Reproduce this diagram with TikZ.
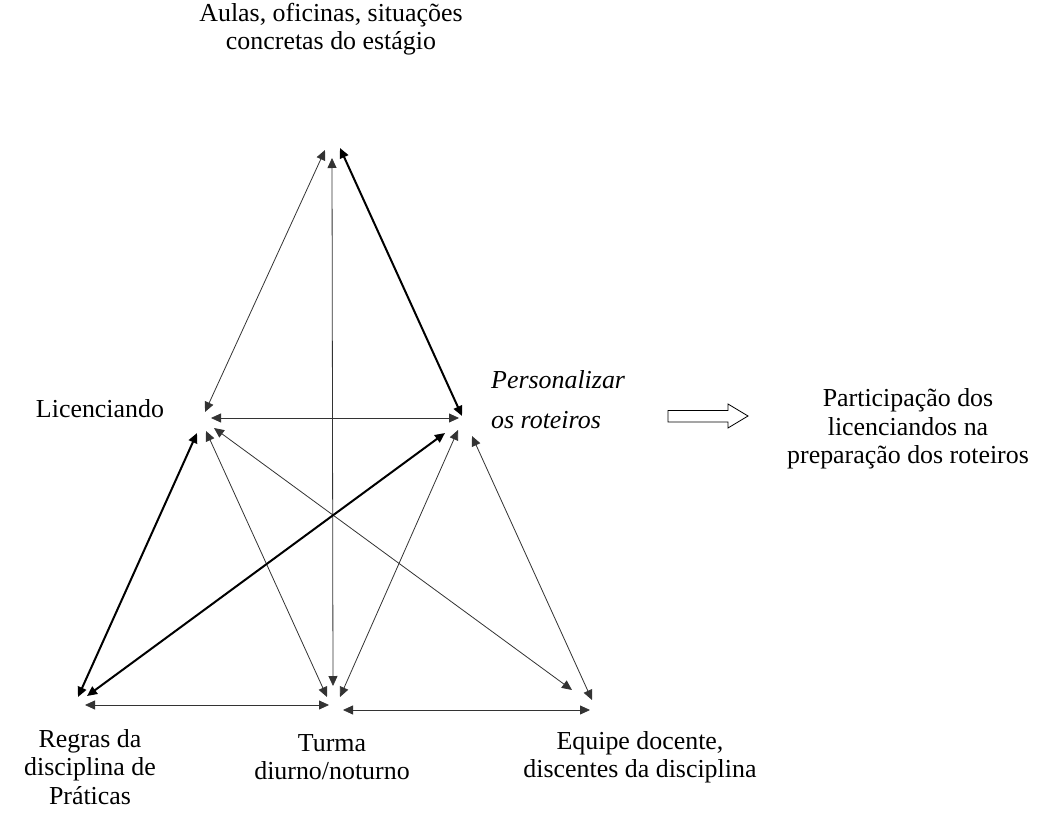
\documentclass[tikz,border=0pt]{standalone}
\usepackage{fontspec}
\setmainfont{Liberation Serif}
\usetikzlibrary{arrows.meta}
\begin{document}
\begin{tikzpicture}[x=1bp,y=-1bp,
  lbl/.style={align=center,font=\fontsize{26}{28.5}\selectfont,inner sep=0pt},
  ilbl/.style={font=\fontsize{26}{28.5}\selectfont\itshape,inner sep=0pt},
  tip/.tip={Triangle[length=10bp,width=9bp]},
  conn/.style={draw=black!80,line width=0.8bp,tip-tip},
  boldconn/.style={draw=black,line width=2bp,tip-tip}]
\useasboundingbox (0,0) rectangle (1046,814);
% endpoints
\coordinate (apL) at (325,150); \coordinate (licA) at (205,412);
\coordinate (apV) at (332,158); \coordinate (turV) at (333,686);
\coordinate (apR) at (340,148); \coordinate (perA) at (462,416);
\coordinate (licH) at (211,418); \coordinate (perH) at (459,418);
\coordinate (licR) at (197,433); \coordinate (regL) at (78,697);
\coordinate (licT) at (206,431); \coordinate (turL) at (327,697);
\coordinate (licE) at (214,428); \coordinate (eqL) at (572,690);
\coordinate (perR) at (445,433); \coordinate (regP) at (87,696);
\coordinate (perT) at (458,430); \coordinate (turP) at (340,697);
\coordinate (perE) at (472,436); \coordinate (eqP) at (592,700);
\coordinate (regH) at (85,705); \coordinate (turH1) at (329,705);
\coordinate (turH2) at (343,710); \coordinate (eqH) at (590,710);
% connectors
\draw[conn] (apL) -- (licA);
\draw[conn] (apV) -- (turV);
\draw[boldconn] (apR) -- (perA);
\draw[conn] (licH) -- (perH);
\draw[boldconn] (licR) -- (regL);
\draw[conn] (licT) -- (turL);
\draw[conn] (licE) -- (eqL);
\draw[boldconn] (perR) -- (regP);
\draw[conn] (perT) -- (turP);
\draw[conn] (perE) -- (eqP);
\draw[conn] (regH) -- (turH1);
\draw[conn] (turH2) -- (eqH);
% labels
\node[lbl] (aulas) at (331,29) {Aulas, oficinas, situações\\concretas do estágio};
\node[lbl] (lic) at (100,409) {Licenciando};
\node[ilbl,anchor=base west] (pers1) at (491,388) {Personalizar};
\node[ilbl,anchor=base west] (pers2) at (491,428) {os roteiros};
\node[lbl] (part) at (908,429) {Participação dos\\licenciandos na\\preparação dos roteiros};
\node[lbl] (regras) at (90,767) {Regras da\\disciplina de\\Práticas};
\node[lbl] (turma) at (332,757) {Turma\\diurno/noturno};
\node[lbl] (equipe) at (640,757) {Equipe docente,\\discentes da disciplina};
% hollow arrow
\draw[line width=0.8bp,line join=miter] (668,410.5) -- (728,410.5) -- (728,404) -- (748,416) -- (728,428) -- (728,422) -- (668,422) -- cycle;
\end{tikzpicture}
\end{document}
